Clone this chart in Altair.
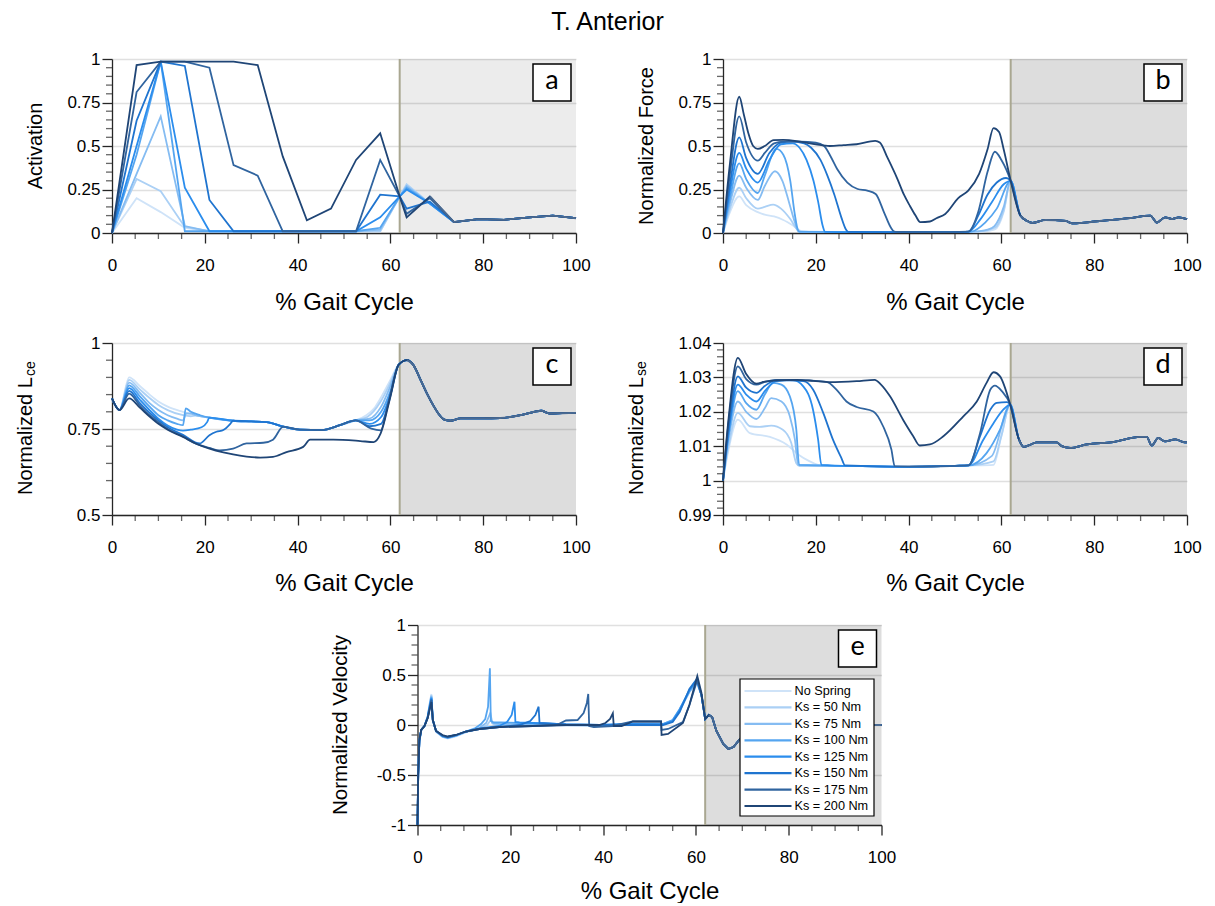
import altair as alt
import pandas as pd

FONT = "Liberation Sans"
BOX_FONT = "Lato"
AXC = "#262626"
SWING_COLOR = "#4a6a92"

SERIES = ["No Spring", "Ks = 50 Nm", "Ks = 75 Nm", "Ks = 100 Nm",
          "Ks = 125 Nm", "Ks = 150 Nm", "Ks = 175 Nm", "Ks = 200 Nm"]
COLORS = ["#cfe3f8", "#abd0f5", "#85bcf2", "#55a5f0",
          "#2b8ded", "#1f74cf", "#30649f", "#1f4576"]

X_MAJOR = [0, 20, 40, 60, 80, 100]
TOE_OFF = [62]
X_END = [100]

# ---------------- panel a : activation ----------------
A_X = [0, 5.3, 10.5, 15.7, 21, 26.2, 31.4, 36.8, 42, 47.2, 52.6, 57.8, 62, 63.5, 68.5]
A_NS = [0, 0.20, 0.12, 0.03, 0.01, 0.01, 0.01, 0.01, 0.01, 0.01, 0.01, 0.01, 0.21, 0.28, 0.17]
A_K50 = [0, 0.31, 0.24, 0.035, 0.01, 0.01, 0.01, 0.01, 0.01, 0.01, 0.01, 0.01, 0.21, 0.28, 0.17]
A_K75 = [0, 0.34, 0.67, 0.04, 0.01, 0.01, 0.01, 0.01, 0.01, 0.01, 0.01, 0.02, 0.21, 0.27, 0.17]
A_K100 = [0, 0.45, 0.985, 0.01, 0.01, 0.01, 0.01, 0.01, 0.01, 0.01, 0.01, 0.03, 0.21, 0.26, 0.17]
A_K125 = [0, 0.50, 0.985, 0.26, 0.01, 0.01, 0.01, 0.01, 0.01, 0.01, 0.01, 0.09, 0.21, 0.25, 0.17]
A_K150 = [0, 0.645, 0.985, 0.96, 0.19, 0.01, 0.01, 0.01, 0.01, 0.01, 0.01, 0.22, 0.21, 0.14, 0.18]
A_K175 = [0, 0.81, 0.985, 0.985, 0.95, 0.39, 0.33, 0.01, 0.01, 0.01, 0.01, 0.42, 0.21, 0.11, 0.20]
A_K200 = [0, 0.965, 0.985, 0.985, 0.985, 0.985, 0.965, 0.44, 0.073, 0.14, 0.42, 0.573, 0.21, 0.09, 0.21]
A_SWING_X = [73.7, 79, 84.5, 90, 95, 100]
A_SWING_Y = [0.063, 0.08, 0.076, 0.09, 0.10, 0.085]

# ---------------- panel b : normalized force ----------------
B_X_NS = [0, 1.5, 3.5, 5, 7.5, 9, 11, 13, 15, 17, 20, 30, 40, 50, 56, 58.6, 60.5, 62]
B_Y_NS = [0, 0.12, 0.21, 0.16, 0.12, 0.105, 0.095, 0.075, 0.045, 0.01, 0.005, 0.005, 0.005, 0.005, 0.008, 0.02, 0.12, 0.30]
B_X_K50 = [0, 1.5, 3.5, 5, 7.5, 9, 10.8, 12.5, 14.5, 16, 17, 30, 40, 50, 55, 58.6, 60.5, 62]
B_Y_K50 = [0, 0.14, 0.26, 0.2, 0.14, 0.15, 0.163, 0.14, 0.08, 0.02, 0.005, 0.005, 0.005, 0.005, 0.008, 0.03, 0.13, 0.30]
B_X_K75 = [0, 1.5, 3.5, 5, 7.5, 9, 11.2, 12.8, 14.3, 15.5, 16.3, 30, 40, 50, 54, 57, 58.5, 60.5, 62]
B_Y_K75 = [0, 0.17, 0.33, 0.26, 0.19, 0.27, 0.355, 0.30, 0.17, 0.06, 0.008, 0.005, 0.005, 0.005, 0.008, 0.02, 0.04, 0.15, 0.30]
B_X_K100 = [0, 1.5, 3.5, 5, 7.5, 9, 11.5, 13, 14.5, 15.4, 16, 16.5, 30, 40, 50, 53.5, 56.5, 59, 62]
B_Y_K100 = [0, 0.2, 0.40, 0.31, 0.23, 0.33, 0.483, 0.45, 0.30, 0.12, 0.03, 0.006, 0.005, 0.005, 0.005, 0.008, 0.06, 0.14, 0.30]
B_X_K125 = [0, 1.5, 3.5, 5, 7.5, 10, 12.5, 15, 16.5, 18, 19.5, 20.5, 21.5, 22, 30, 40, 50, 52.9, 55.5, 58, 60.5, 62]
B_Y_K125 = [0, 0.24, 0.46, 0.37, 0.29, 0.42, 0.51, 0.515, 0.49, 0.42, 0.30, 0.18, 0.04, 0.006, 0.005, 0.005, 0.005, 0.008, 0.08, 0.18, 0.28, 0.30]
B_X_K150 = [0, 1.5, 3.5, 5, 7.5, 10, 12.5, 15, 17.5, 19, 21, 22.5, 24, 25.5, 26.5, 27, 40, 50, 52.9, 55, 57, 59, 61, 62]
B_Y_K150 = [0, 0.28, 0.55, 0.43, 0.34, 0.46, 0.52, 0.525, 0.515, 0.49, 0.42, 0.33, 0.22, 0.09, 0.02, 0.006, 0.005, 0.005, 0.008, 0.1, 0.22, 0.29, 0.316, 0.30]
B_X_K175 = [0, 1.5, 3.5, 5, 7.5, 9, 11, 13, 16.6, 20, 21.8, 23.2, 24.6, 26.8, 29, 31.1, 32.9, 34.7, 36.2, 36.8, 37.5, 45, 52.9, 55, 57, 58.6, 60, 62]
B_Y_K175 = [0, 0.34, 0.67, 0.52, 0.416, 0.46, 0.515, 0.525, 0.525, 0.52, 0.50, 0.44, 0.368, 0.29, 0.253, 0.243, 0.224, 0.119, 0.03, 0.01, 0.006, 0.005, 0.008, 0.12, 0.35, 0.467, 0.42, 0.30]
B_X_K200 = [0, 1.5, 3.5, 4.5, 5.5, 6.5, 7.5, 9, 10.9, 13, 16.6, 20, 23, 26, 28.8, 32.8, 33.8, 35.5, 37.6, 39, 40.3, 41.5, 42.5, 44.6, 46, 47.9, 50.7, 52.9, 55.2, 57, 58.3, 59.5, 60.5, 62]
B_Y_K200 = [0, 0.40, 0.783, 0.68, 0.57, 0.50, 0.483, 0.50, 0.534, 0.535, 0.525, 0.51, 0.50, 0.505, 0.51, 0.53, 0.52, 0.43, 0.31, 0.22, 0.155, 0.10, 0.063, 0.066, 0.085, 0.109, 0.20, 0.245, 0.34, 0.48, 0.603, 0.58, 0.48, 0.30]
B_SWING_X = [64.1, 65.5, 66.7, 69.5, 73.8, 75.3, 78, 81.7, 87.5, 92.1, 93.5, 95.3, 96.8, 98.2, 100]
B_SWING_Y = [0.10, 0.07, 0.058, 0.075, 0.07, 0.055, 0.06, 0.07, 0.085, 0.10, 0.06, 0.09, 0.08, 0.09, 0.08]

# ---------------- panel c : normalized Lce ----------------
C_X_NS = [0, 1.6, 3.7, 6, 8.1, 10, 12, 15.3, 18, 21, 26.1, 30, 33.3, 36.9, 40.5, 45.2, 49.1, 52.5, 54.8, 56.5, 57.9, 60, 61.8]
C_Y_NS = [0.839, 0.805, 0.90, 0.875, 0.85, 0.83, 0.815, 0.80, 0.79, 0.783, 0.774, 0.772, 0.77, 0.757, 0.748, 0.747, 0.761, 0.775, 0.79, 0.81, 0.84, 0.893, 0.937]
C_X_K50 = [0, 1.6, 3.7, 6, 8.1, 10, 12, 15.3, 17, 18, 21, 26.1, 30, 33.3, 36.9, 40.5, 45.2, 49.1, 52.5, 55, 57.9, 60, 61.8]
C_Y_K50 = [0.839, 0.805, 0.893, 0.865, 0.84, 0.82, 0.805, 0.79, 0.787, 0.789, 0.783, 0.774, 0.772, 0.77, 0.757, 0.748, 0.747, 0.761, 0.775, 0.785, 0.83, 0.885, 0.937]
C_X_K75 = [0, 1.6, 3.7, 6, 8.1, 10, 12, 14, 15.3, 16, 17, 18, 21, 26.1, 30, 33.3, 36.9, 40.5, 45.2, 49.1, 52.5, 55.5, 58, 60, 61.8]
C_Y_K75 = [0.839, 0.805, 0.885, 0.855, 0.825, 0.805, 0.79, 0.78, 0.775, 0.795, 0.795, 0.79, 0.783, 0.774, 0.772, 0.77, 0.757, 0.748, 0.747, 0.761, 0.775, 0.78, 0.815, 0.875, 0.937]
C_X_K100 = [0, 1.6, 3.7, 6, 8.1, 10, 12, 14, 15.3, 15.9, 17, 19, 21, 26.1, 30, 33.3, 36.9, 40.5, 45.2, 49.1, 52.5, 55.5, 58, 60, 61.8]
C_Y_K100 = [0.839, 0.805, 0.877, 0.845, 0.815, 0.79, 0.775, 0.765, 0.761, 0.81, 0.80, 0.79, 0.783, 0.774, 0.772, 0.77, 0.757, 0.748, 0.747, 0.761, 0.775, 0.775, 0.80, 0.86, 0.937]
C_X_K125 = [0, 1.6, 3.7, 6, 8.1, 10, 12, 14, 15.3, 17, 19.3, 20.5, 21, 26.1, 30, 33.3, 36.9, 40.5, 45.2, 49.1, 52.5, 55.5, 58, 60, 61.8]
C_Y_K125 = [0.839, 0.805, 0.869, 0.835, 0.805, 0.78, 0.76, 0.748, 0.745, 0.748, 0.755, 0.77, 0.783, 0.774, 0.772, 0.77, 0.757, 0.748, 0.747, 0.761, 0.775, 0.765, 0.785, 0.85, 0.937]
C_X_K150 = [0, 1.6, 3.7, 6, 8.1, 10, 12, 15.3, 18.9, 21, 22.5, 24, 25.5, 26.1, 30, 33.3, 36.9, 40.5, 45.2, 49.1, 52.5, 55.5, 58, 59.5, 61.8]
C_Y_K150 = [0.839, 0.805, 0.861, 0.825, 0.797, 0.775, 0.755, 0.733, 0.708, 0.732, 0.742, 0.747, 0.765, 0.774, 0.772, 0.77, 0.757, 0.748, 0.747, 0.761, 0.775, 0.758, 0.765, 0.82, 0.937]
C_X_K175 = [0, 1.6, 3.7, 6, 8.1, 10, 12, 15.3, 18, 21, 23.2, 26.1, 29, 32.6, 34.7, 36.9, 40.5, 45.2, 49.1, 52.5, 55.9, 57.9, 59.6, 61.8]
C_Y_K175 = [0.839, 0.805, 0.853, 0.818, 0.79, 0.77, 0.75, 0.728, 0.708, 0.695, 0.688, 0.693, 0.708, 0.71, 0.719, 0.757, 0.748, 0.747, 0.761, 0.775, 0.751, 0.746, 0.83, 0.937]
C_X_K200 = [0, 1.6, 3.7, 6, 8.1, 10, 12, 15.3, 18, 21, 24, 26.1, 29, 31.9, 34.7, 37.6, 41.2, 42.7, 47.7, 53.5, 56.4, 57.9, 60, 61.8]
C_Y_K200 = [0.839, 0.805, 0.839, 0.812, 0.786, 0.765, 0.748, 0.727, 0.708, 0.693, 0.682, 0.676, 0.67, 0.667, 0.669, 0.683, 0.698, 0.719, 0.719, 0.715, 0.712, 0.737, 0.844, 0.937]
C_SWING_X = [63.6, 65, 66.5, 68, 69.4, 70.5, 71.5, 72.9, 75.1, 80, 83.7, 88, 91, 92.5, 94.3, 97, 100]
C_SWING_Y = [0.95, 0.935, 0.893, 0.85, 0.815, 0.792, 0.778, 0.774, 0.781, 0.781, 0.782, 0.79, 0.80, 0.803, 0.795, 0.796, 0.797]

# ---------------- panel d : normalized Lse ----------------
D_X_NS = [0, 1.2, 3.2, 5.8, 10.1, 13.7, 16.2, 18.7, 21.2, 30, 40, 50, 53, 58.3, 60, 61.9]
D_Y_NS = [1.0, 1.009, 1.0177, 1.0138, 1.0127, 1.0105, 1.0076, 1.0056, 1.0044, 1.0042, 1.0040, 1.0043, 1.0044, 1.0046, 1.013, 1.0221]
D_X_K50 = [0, 1.2, 3.2, 5.8, 7.9, 10.4, 12.9, 14.7, 15.8, 16.5, 30, 40, 50, 53, 58.3, 60, 61.9]
D_Y_K50 = [1.0, 1.01, 1.0197, 1.0158, 1.0156, 1.016, 1.0148, 1.011, 1.005, 1.0042, 1.0042, 1.004, 1.0043, 1.0044, 1.0056, 1.013, 1.0221]
D_X_K75 = [0, 1.2, 3.2, 5, 7.2, 9, 10.4, 12.6, 14.4, 15.5, 16.2, 30, 40, 50, 53, 57.9, 61.9]
D_Y_K75 = [1.0, 1.012, 1.023, 1.020, 1.0179, 1.021, 1.024, 1.023, 1.0187, 1.0119, 1.0046, 1.0042, 1.004, 1.0043, 1.0044, 1.0071, 1.0221]
D_X_K100 = [0, 1.2, 3.2, 5, 7.2, 9, 10.8, 12.6, 14.4, 15.8, 16.4, 30, 40, 50, 53, 56.8, 59.7, 61.9]
D_Y_K100 = [1.0, 1.013, 1.026, 1.0225, 1.0206, 1.025, 1.0284, 1.0279, 1.0245, 1.0148, 1.0046, 1.0042, 1.004, 1.0043, 1.0044, 1.008, 1.0148, 1.0221]
D_X_K125 = [0, 1.2, 3.2, 5, 7.2, 9, 11.5, 15.1, 17.3, 19.4, 20.5, 21.2, 30, 40, 50, 52.9, 56.1, 58.3, 60.4, 61.9]
D_Y_K125 = [1.0, 1.014, 1.0279, 1.025, 1.023, 1.026, 1.0289, 1.0292, 1.0274, 1.0206, 1.0119, 1.0046, 1.0042, 1.004, 1.0043, 1.0044, 1.0119, 1.0167, 1.0206, 1.0221]
D_X_K150 = [0, 1.2, 3.2, 5, 7.2, 9, 11.5, 17.3, 19.4, 21.6, 23.7, 25.5, 26.3, 40, 50, 52.9, 55.4, 57.6, 59, 61.2, 61.9]
D_Y_K150 = [1.0, 1.015, 1.0303, 1.027, 1.0255, 1.0275, 1.0292, 1.0289, 1.0265, 1.0197, 1.0119, 1.0066, 1.0044, 1.004, 1.0043, 1.0044, 1.0129, 1.0206, 1.0226, 1.0228, 1.0221]
D_X_K175 = [0, 1.2, 3.2, 5, 7.2, 9, 11.5, 16, 22.3, 24.5, 26.6, 28.8, 32.4, 34.5, 36.3, 37, 45, 52.9, 55.4, 57.6, 58.6, 60.1, 61.9]
D_Y_K175 = [1.0, 1.017, 1.0332, 1.0295, 1.0279, 1.0287, 1.0293, 1.0292, 1.0287, 1.0264, 1.023, 1.0214, 1.0201, 1.0158, 1.009, 1.0042, 1.0041, 1.0044, 1.0138, 1.0264, 1.0276, 1.026, 1.0221]
D_X_K200 = [0, 1.2, 3.2, 5, 7.2, 9, 11.5, 16, 19.5, 23, 28.8, 32.7, 34, 36, 38.8, 41, 42.4, 44.6, 47.5, 51.8, 54.7, 56.8, 58.3, 59.7, 61.9]
D_Y_K200 = [1.0, 1.018, 1.0357, 1.031, 1.0282, 1.0288, 1.0291, 1.0293, 1.029, 1.0286, 1.0289, 1.0293, 1.028, 1.0245, 1.0177, 1.0129, 1.0102, 1.0105, 1.0129, 1.0187, 1.023, 1.0284, 1.0315, 1.0303, 1.0221]
D_SWING_X = [63.8, 64.8, 66, 67.6, 71.9, 73, 74.8, 78.4, 84.1, 89.9, 91.3, 92.4, 93.8, 95.3, 97.5, 99.2, 100]
D_SWING_Y = [1.0119, 1.0098, 1.0103, 1.0111, 1.0111, 1.0100, 1.0095, 1.0105, 1.0112, 1.0127, 1.0127, 1.0102, 1.0124, 1.0114, 1.0120, 1.0112, 1.0111]

# ---------------- panel e : normalized velocity ----------------
E_X_NS = [0, 0.15, 0.4, 0.8, 1.5, 2.2, 2.7, 3.0, 3.3, 4.0, 5.4, 6.5, 8.3, 10.4, 13.3, 17.6, 24.8, 32, 39.2, 46.4, 52.9, 55, 56.5, 58.6, 60.2, 61.2, 62]
E_Y_NS = [-1.0, -0.5, -0.18, -0.06, -0.01, 0.09, 0.24, 0.31, 0.05, -0.07, -0.12, -0.135, -0.115, -0.075, -0.04, -0.02, -0.01, 0.0, -0.005, 0.01, 0.01, 0.04, 0.14, 0.33, 0.42, 0.3, 0.06]
E_X_K50 = [0, 0.15, 0.4, 0.8, 1.5, 2.2, 2.7, 3.0, 3.3, 4.0, 5.4, 6.5, 8.3, 10.4, 13.3, 15.0, 15.8, 16.3, 17.6, 24.8, 32, 39.2, 46.4, 52.9, 55, 56.5, 58.6, 60.2, 61.2, 62]
E_Y_K50 = [-1.0, -0.5, -0.17, -0.05, -0.01, 0.09, 0.23, 0.30, 0.05, -0.065, -0.12, -0.13, -0.11, -0.07, -0.035, 0.0, 0.05, 0.01, 0.0, -0.005, 0.0, -0.005, 0.01, 0.01, 0.045, 0.15, 0.34, 0.42, 0.3, 0.06]
E_X_K75 = [0, 0.15, 0.4, 0.8, 1.5, 2.2, 2.7, 3.0, 3.3, 4.0, 5.4, 6.5, 8.3, 10.4, 13.3, 14.8, 15.7, 16.1, 17.6, 24.8, 32, 39.2, 46.4, 52.9, 55, 56.5, 58.6, 60.2, 61.2, 62]
E_Y_K75 = [-1.0, -0.5, -0.17, -0.05, -0.01, 0.085, 0.22, 0.29, 0.05, -0.065, -0.115, -0.13, -0.11, -0.07, -0.03, 0.02, 0.12, 0.02, 0.01, 0.0, 0.0, -0.005, 0.01, 0.01, 0.05, 0.15, 0.33, 0.43, 0.3, 0.06]
E_X_K100 = [0, 0.15, 0.4, 0.8, 1.5, 2.2, 2.7, 3.0, 3.3, 4.0, 5.4, 6.5, 8.3, 10.4, 12.5, 13.7, 14.6, 15.2, 15.6, 15.8, 16.5, 18, 22, 26, 32, 39.2, 46.4, 52.9, 55, 56.5, 58.6, 60.2, 61.2, 62]
E_Y_K100 = [-1.0, -0.5, -0.16, -0.05, -0.01, 0.08, 0.21, 0.28, 0.05, -0.06, -0.115, -0.125, -0.105, -0.065, -0.03, 0.01, 0.06, 0.18, 0.567, 0.04, 0.025, 0.025, 0.02, 0.015, 0.005, 0.0, 0.01, 0.01, 0.05, 0.16, 0.34, 0.44, 0.3, 0.06]
E_X_K125 = [0, 0.15, 0.4, 0.8, 1.5, 2.2, 2.7, 3.0, 3.3, 4.0, 5.4, 6.5, 8.3, 10.4, 13.3, 17.6, 19.3, 20.3, 20.9, 21.1, 22, 25, 28, 32, 39.2, 46.4, 52.9, 55, 56.5, 58.6, 60.2, 61.2, 62]
E_Y_K125 = [-1.0, -0.5, -0.16, -0.05, -0.01, 0.08, 0.2, 0.27, 0.05, -0.06, -0.11, -0.125, -0.105, -0.065, -0.035, -0.01, 0.03, 0.1, 0.233, 0.03, 0.025, 0.02, 0.015, 0.005, 0.0, 0.01, 0.005, 0.04, 0.15, 0.35, 0.45, 0.3, 0.06]
E_X_K150 = [0, 0.15, 0.4, 0.8, 1.5, 2.2, 2.7, 3.0, 3.3, 4.0, 5.4, 6.5, 8.3, 10.4, 13.3, 17.6, 22, 24.3, 25.4, 26.1, 26.3, 28, 32, 39.2, 46.4, 52.9, 55, 56.5, 58.6, 60.2, 61.2, 62]
E_Y_K150 = [-1.0, -0.5, -0.15, -0.05, -0.01, 0.075, 0.19, 0.26, 0.05, -0.06, -0.11, -0.12, -0.1, -0.065, -0.04, -0.02, 0.0, 0.04, 0.1, 0.183, 0.02, 0.015, 0.005, 0.0, 0.0, 0.0, 0.03, 0.13, 0.36, 0.46, 0.3, 0.06]
E_X_K175 = [0, 0.15, 0.4, 0.8, 1.5, 2.2, 2.7, 3.0, 3.3, 4.0, 5.4, 6.5, 8.3, 10.4, 13.3, 17.6, 24.8, 30, 32, 34.5, 35.8, 36.5, 36.8, 37.0, 38, 42, 46.4, 52.5, 52.6, 54, 57.2, 58.6, 60.3, 61.2, 62]
E_Y_K175 = [-1.0, -0.5, -0.15, -0.05, -0.01, 0.07, 0.18, 0.25, 0.05, -0.06, -0.105, -0.12, -0.1, -0.065, -0.04, -0.02, -0.01, 0.0, 0.045, 0.05, 0.12, 0.22, 0.31, -0.01, -0.02, -0.01, 0.035, 0.035, -0.05, -0.04, 0.03, 0.2, 0.45, 0.3, 0.06]
E_X_K200 = [0, 0.15, 0.4, 0.8, 1.5, 2.2, 2.7, 3.0, 3.3, 4.0, 5.4, 6.5, 8.3, 10.4, 13.3, 17.6, 24.8, 32, 39.2, 40.5, 41.5, 42.1, 42.3, 44, 46.4, 52.5, 52.6, 54, 57.2, 58.6, 60.3, 61.2, 62]
E_Y_K200 = [-1.0, -0.5, -0.15, -0.05, -0.01, 0.07, 0.17, 0.23, 0.05, -0.06, -0.1, -0.115, -0.1, -0.065, -0.04, -0.02, -0.01, 0.0, 0.0, 0.02, 0.06, 0.117, -0.01, -0.01, 0.035, 0.035, -0.1, -0.09, 0.02, 0.2, 0.49, 0.32, 0.06]
E_SWING_X = [62.8, 63.5, 64.4, 65.9, 67, 68.1, 69.5, 72, 75, 80, 90, 100]
E_SWING_Y = [0.1, 0.08, -0.057, -0.19, -0.24, -0.22, -0.14, -0.07, -0.03, -0.01, 0.0, 0.0]


def build(pairs, swing_x, swing_y):
    rows = []
    for name, xs, ys in pairs:
        xs2 = list(xs) + list(swing_x)
        ys2 = list(ys) + list(swing_y)
        if len(xs2) != len(ys2):
            raise ValueError(f"length mismatch in {name}: {len(xs2)} vs {len(ys2)}")
        for x, y in zip(xs2, ys2):
            rows.append({"x": x, "y": y, "series": name})
    return pd.DataFrame(rows)


def swing_df(xs, ys):
    return pd.DataFrame({"x": xs, "y": ys})


DF_A = build(list(zip(SERIES, [A_X] * 8,
                      [A_NS, A_K50, A_K75, A_K100, A_K125, A_K150, A_K175, A_K200])),
             A_SWING_X, A_SWING_Y)
DF_B = build(list(zip(SERIES,
                      [B_X_NS, B_X_K50, B_X_K75, B_X_K100, B_X_K125, B_X_K150, B_X_K175, B_X_K200],
                      [B_Y_NS, B_Y_K50, B_Y_K75, B_Y_K100, B_Y_K125, B_Y_K150, B_Y_K175, B_Y_K200])),
             B_SWING_X, B_SWING_Y)
DF_C = build(list(zip(SERIES,
                      [C_X_NS, C_X_K50, C_X_K75, C_X_K100, C_X_K125, C_X_K150, C_X_K175, C_X_K200],
                      [C_Y_NS, C_Y_K50, C_Y_K75, C_Y_K100, C_Y_K125, C_Y_K150, C_Y_K175, C_Y_K200])),
             C_SWING_X, C_SWING_Y)
DF_D = build(list(zip(SERIES,
                      [D_X_NS, D_X_K50, D_X_K75, D_X_K100, D_X_K125, D_X_K150, D_X_K175, D_X_K200],
                      [D_Y_NS, D_Y_K50, D_Y_K75, D_Y_K100, D_Y_K125, D_Y_K150, D_Y_K175, D_Y_K200])),
             D_SWING_X, D_SWING_Y)
DF_E = build(list(zip(SERIES,
                      [E_X_NS, E_X_K50, E_X_K75, E_X_K100, E_X_K125, E_X_K150, E_X_K175, E_X_K200],
                      [E_Y_NS, E_Y_K50, E_Y_K75, E_Y_K100, E_Y_K125, E_Y_K150, E_Y_K175, E_Y_K200])),
             E_SWING_X, E_SWING_Y)

W = 464
FRAME_L = 100
FRAME_R = 16
ONE = pd.DataFrame({"k": [0]})
SHADE = pd.DataFrame({"x0": TOE_OFF, "x1": X_END})
X_MINOR = pd.DataFrame({"m": [v for v in range(5, 100, 5) if v % 20 != 0]})


def panel(df, sw, h, ydom, ymajor, yminor, interp, letter, title_parts, shade_op,
          legend=False, bottom=81, title_pad=16):
    xsc = alt.Scale(domain=[0, 100], nice=False, zero=False)
    ysc = alt.Scale(domain=ydom, nice=False, zero=False)
    xax = alt.Axis(values=X_MAJOR, tickSize=10, tickWidth=1.3, domainWidth=1.3,
                   domainColor=AXC, tickColor=AXC, labelPadding=14, labelFontSize=17,
                   labelFlush=False, labelColor="black", grid=False,
                   title="% Gait Cycle", titleFontSize=24, titleFontWeight="normal",
                   titleColor="black", titlePadding=title_pad)
    yax = alt.Axis(values=ymajor, tickSize=10, tickWidth=1.3, domainWidth=1.3,
                   domainColor=AXC, tickColor=AXC, labelPadding=2, labelFontSize=17,
                   labelFlush=False, labelColor="black",
                   labelExpr="replace(format(datum.value, '~g'), '\u2212', '-')",
                   title=None, grid=True, gridColor="#e0e0e0", gridWidth=1.6)
    X = lambda f: alt.X(f, type="quantitative", scale=xsc, axis=xax)
    Y = lambda f: alt.Y(f, type="quantitative", scale=ysc, axis=yax)

    layers = []
    # invisible frame that fixes each panel's layout box
    layers.append(alt.Chart(ONE).mark_rect(opacity=0).encode(
        x=alt.value(-FRAME_L), x2=alt.value(W + FRAME_R), y=alt.value(-8), y2=alt.value(h + bottom)))
    layers.append(alt.Chart(SHADE).mark_rect(color="black", opacity=shade_op).encode(
        x=X("x0"), x2="x1", y=alt.value(0), y2=alt.value(h)))
    layers.append(alt.Chart(SHADE).mark_rule(color="#a9a791", strokeWidth=2).encode(
        x=X("x0"), y=alt.value(0), y2=alt.value(h)))
    layers.append(alt.Chart(df).mark_line(strokeWidth=1.8, interpolate=interp).encode(
        x=X("x"), y=Y("y"),
        color=alt.Color("series:N", scale=alt.Scale(domain=SERIES, range=COLORS), legend=None),
        detail="series:N"))
    # the converged swing-phase trace, as the overlapped lines appear in the source
    layers.append(alt.Chart(sw).mark_line(strokeWidth=1.9, interpolate=interp, color=SWING_COLOR).encode(
        x=X("x"), y=Y("y")))
    layers.append(alt.Chart(X_MINOR).mark_tick(size=6, thickness=1.3, color=AXC, orient="vertical").encode(
        x=X("m"), y=alt.value(h + 3)))
    layers.append(alt.Chart(pd.DataFrame({"m": yminor})).mark_tick(
        size=6, thickness=1.3, color=AXC, orient="horizontal").encode(
        y=Y("m"), x=alt.value(-3)))
    # y titles
    for txt, dx, dy, size, align in title_parts:
        layers.append(alt.Chart(ONE).mark_text(
            text=txt, angle=270, font=FONT, fontSize=size, align=align, baseline="middle",
            color="black").encode(x=alt.value(dx), y=alt.value(h / 2 + dy)))
    if legend:
        layers.append(alt.Chart(ONE).mark_rect(fill="white", stroke="black", strokeWidth=1.2).encode(
            x=alt.value(322.5), x2=alt.value(456.5), y=alt.value(54), y2=alt.value(191)))
        for i, (name, col) in enumerate(zip(SERIES, COLORS)):
            yy = 66 + i * 16.43
            layers.append(alt.Chart(ONE).mark_rule(color=col, strokeWidth=2.2).encode(
                x=alt.value(327), x2=alt.value(374), y=alt.value(yy)))
            layers.append(alt.Chart(ONE).mark_text(
                text=name, font=FONT, fontSize=12.7, align="left", baseline="middle",
                color="black").encode(x=alt.value(377), y=alt.value(yy)))
    # letter box
    layers.append(alt.Chart(ONE).mark_rect(fill="white", stroke="black", strokeWidth=1.5).encode(
        x=alt.value(W - 43), x2=alt.value(W - 5), y=alt.value(5), y2=alt.value(42)))
    layers.append(alt.Chart(ONE).mark_text(
        text=letter, font=BOX_FONT, fontSize=27, align="center", baseline="middle",
        color="black").encode(x=alt.value(W - 24), y=alt.value(22)))
    return alt.layer(*layers).properties(width=W, height=h)


def minor(lo, hi, step, major_step):
    out = []
    n = int(round((hi - lo) / step))
    for i in range(n + 1):
        v = round(lo + i * step, 6)
        r = v / major_step
        if abs(r - round(r)) > 1e-6:
            out.append(v)
    return out


A_YMAJ = [0, 0.25, 0.5, 0.75, 1]
C_YMAJ = [0.5, 0.75, 1]
D_YMAJ = [0.99, 1.0, 1.01, 1.02, 1.03, 1.04]
E_YMAJ = [-1, -0.5, 0, 0.5, 1]

pa = panel(DF_A, swing_df([68.5] + A_SWING_X, [0.21] + A_SWING_Y), 174, [0, 1], A_YMAJ,
           minor(0, 1, 0.05, 0.25), "linear", "a",
           [("Activation", -76, 0, 20, "center")], 0.075, title_pad=17)
pb = panel(DF_B, swing_df(B_SWING_X, B_SWING_Y), 174, [0, 1], A_YMAJ,
           minor(0, 1, 0.05, 0.25), "monotone", "b",
           [("Normalized Force", -76, 0, 20, "center")], 0.135, title_pad=17)
pc = panel(DF_C, swing_df(C_SWING_X, C_SWING_Y), 172, [0.5, 1], C_YMAJ,
           minor(0.5, 1, 0.05, 0.25), "monotone", "c",
           [("Normalized L", -86, 66, 20, "left"), ("ce", -81, 66 - 119, 14, "left")], 0.135)
pd_ = panel(DF_D, swing_df(D_SWING_X, D_SWING_Y), 172, [0.99, 1.04], D_YMAJ,
            minor(0.99, 1.04, 0.002, 0.01), "monotone", "d",
            [("Normalized L", -86, 66, 20, "left"), ("se", -81, 66 - 119, 14, "left")], 0.135)
pe = panel(DF_E, swing_df(E_SWING_X, E_SWING_Y), 200, [-1, 1], E_YMAJ,
           minor(-1, 1, 0.1, 0.5), "linear", "e",
           [("Normalized Velocity", -77, 0, 20.5, "center")], 0.135, legend=True,
           bottom=70, title_pad=14)

row1 = alt.hconcat(pa, pb, spacing=31).resolve_scale(x="independent", y="independent")
row2 = alt.hconcat(pc, pd_, spacing=31).resolve_scale(x="independent", y="independent")

chart = alt.vconcat(row1, row2, pe, spacing=20, center=True).resolve_scale(
    x="independent", y="independent"
).properties(
    title=alt.TitleParams("T. Anterior", fontSize=25, font=FONT, fontWeight="normal",
                          anchor="middle", offset=15, color="black"),
    padding={"left": 4, "top": 2, "right": 0, "bottom": 0},
    background="white",
).configure_view(stroke=None).configure_axis(labelFont=FONT, titleFont=FONT)

chart.save("out.html", embed_options={"renderer": "svg", "actions": False})
